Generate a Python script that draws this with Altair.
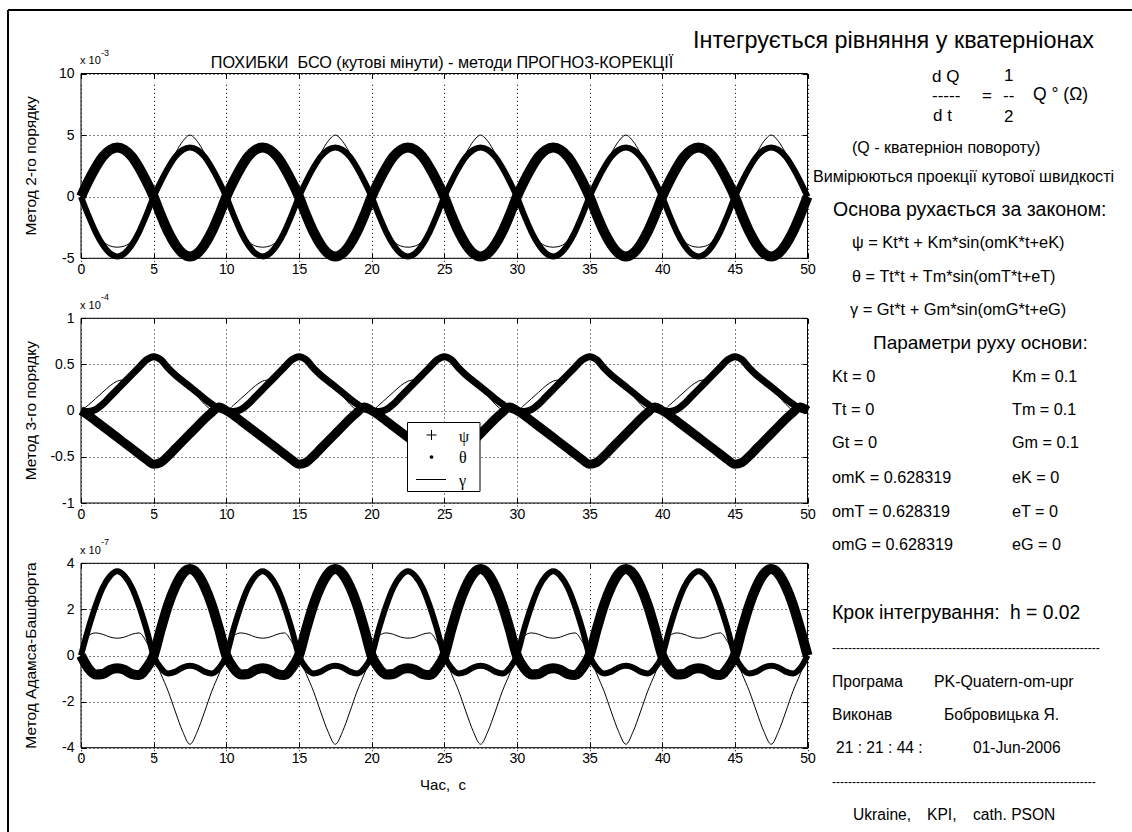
import altair as alt
import pandas as pd

W, H = 1132, 832
X_LEFT, X_RIGHT = 81.0, 807.5
FONT = "Liberation Sans"

# ---------------- data ----------------
# the error curves repeat every 10 s; one period sampled every 0.5 s
PERIOD_T = [0.0, 0.5, 1.0, 1.5, 2.0, 2.5, 3.0, 3.5, 4.0, 4.5,
            5.0, 5.5, 6.0, 6.5, 7.0, 7.5, 8.0, 8.5, 9.0, 9.5]
N_PERIODS = 5
X_TICKS = [0, 5, 10, 15, 20, 25, 30, 35, 40, 45, 50]
SERIES = ["ψ", "θ", "γ"]

# panel 1  (x 10^-3)  Метод 2-го порядку
P1_PSI = [0, 1.25, 2.35, 3.25, 3.8, 4.0, 3.8, 3.25, 2.35, 1.25,
          0, -1.5, -2.85, -3.9, -4.6, -4.85, -4.6, -3.9, -2.85, -1.5]
P1_THETA = [0, -1.5, -2.85, -3.9, -4.6, -4.85, -4.6, -3.9, -2.85, -1.5,
            0, 1.25, 2.35, 3.25, 3.8, 4.0, 3.8, 3.25, 2.35, 1.25]
P1_GAMMA = [0, -1.45, -2.8, -3.6, -4.0, -4.1, -4.0, -3.6, -2.8, -1.45,
            0, 1.35, 2.6, 3.55, 4.5, 5.0, 4.5, 3.55, 2.6, 1.35]

# panel 2  (x 10^-4)  Метод 3-го порядку
P2_PSI = [0.0, -0.01, 0.01, 0.07, 0.15, 0.23, 0.31, 0.39, 0.47, 0.55,
          0.585, 0.55, 0.46, 0.385, 0.32, 0.26, 0.195, 0.13, 0.07, 0.02]
P2_THETA = [0.0, -0.05, -0.11, -0.17, -0.23, -0.29, -0.35, -0.41, -0.47, -0.53,
            -0.58, -0.56, -0.49, -0.41, -0.33, -0.25, -0.17, -0.09, -0.02, 0.04]
P2_GAMMA = [0.0, 0.06, 0.13, 0.2, 0.27, 0.32, 0.34, 0.41, 0.48, 0.55,
            0.57, 0.53, 0.45, 0.38, 0.31, 0.25, 0.16, 0.07, 0.01, 0.0]

# panel 3  (x 10^-7)  Метод Адамса-Башфорта
P3_PSI = [0, 1.15, 2.15, 2.95, 3.45, 3.65, 3.45, 2.95, 2.15, 1.15,
          0, -0.55, -0.78, -0.7, -0.52, -0.45, -0.52, -0.7, -0.78, -0.55]
P3_THETA = [0, -0.55, -0.82, -0.8, -0.62, -0.55, -0.62, -0.8, -0.85, -0.55,
            0, 1.15, 2.2, 3.0, 3.55, 3.75, 3.55, 3.0, 2.2, 1.15]
P3_GAMMA = [0, 0.85, 0.98, 0.92, 0.8, 0.75, 0.8, 0.92, 0.98, 0.6,
            0, -0.8, -1.55, -2.45, -3.3, -3.85, -3.3, -2.45, -1.55, -0.8]

PANELS = [
    dict(vals=[P1_PSI, P1_THETA, P1_GAMMA], widths=[10, 6, 1], domain=[-5, 10],
         ticks=[-5, 0, 5, 10], top=73.5, bottom=258.3, exp="-3",
         ylabel="Метод 2-го порядку"),
    dict(vals=[P2_PSI, P2_THETA, P2_GAMMA], widths=[7, 9, 1], domain=[-1, 1],
         ticks=[-1, -0.5, 0, 0.5, 1], top=318.3, bottom=503.0, exp="-4",
         ylabel="Метод 3-го порядку"),
    dict(vals=[P3_PSI, P3_THETA, P3_GAMMA], widths=[6, 10, 1], domain=[-4, 4],
         ticks=[-4, -2, 0, 2, 4], top=563.3, bottom=747.7, exp="-7",
         ylabel="Метод Адамса-Башфорта"),
]

T_FULL = [p * 10 + t for p in range(N_PERIODS) for t in PERIOD_T] + [50.0]


def full(vals):
    return list(vals) * N_PERIODS + [vals[0]]


layers = []
for p in PANELS:
    xs = alt.Scale(domain=[0, 50], range=[X_LEFT, X_RIGHT], nice=False, zero=False)
    ys = alt.Scale(domain=p["domain"], range=[p["bottom"], p["top"]], nice=False, zero=False)
    box_df = pd.DataFrame({"x0": [0], "x1": [50], "y0": [p["domain"][0]], "y1": [p["domain"][1]]})
    common = dict(labelFont=FONT, labelColor="black", title=None)
    box = alt.Chart(box_df).mark_rect(fillOpacity=0, stroke="black", strokeWidth=1).encode(
        x=alt.X("x0:Q", scale=xs, axis=alt.Axis(
            orient="bottom", offset=p["bottom"] - H, values=X_TICKS, grid=True,
            gridDash=[1, 3], gridColor="black", gridOpacity=1, gridWidth=1,
            ticks=False, tickSize=0, domain=False, labelFlush=False,
            labelExpr="'' + datum.value", labelFontSize=14, labelPadding=4, **common)),
        x2="x1:Q",
        y=alt.Y("y0:Q", scale=ys, axis=alt.Axis(
            orient="left", offset=-X_LEFT, values=p["ticks"], grid=True,
            gridDash=[1, 3], gridColor="black", gridOpacity=1, gridWidth=1,
            ticks=False, tickSize=0, domain=False, labelFlush=False,
            labelExpr="'' + datum.value", labelFontSize=14, labelPadding=7, **common)),
        y2="y1:Q",
    )
    layers.append(box)
    tick_ax = dict(labels=False, domain=False, grid=False, ticks=True, tickSize=5,
                   tickColor="black", tickWidth=1, title=None)
    tk1 = alt.Chart(box_df).mark_point(opacity=0).encode(
        x=alt.X("x0:Q", scale=xs, axis=alt.Axis(orient="top", offset=-p["bottom"], values=X_TICKS, **tick_ax)),
        y=alt.Y("y0:Q", scale=ys, axis=alt.Axis(orient="right", offset=X_LEFT - W, values=p["ticks"], **tick_ax)),
    )
    tk2 = alt.Chart(box_df).mark_point(opacity=0).encode(
        x=alt.X("x0:Q", scale=xs, axis=alt.Axis(orient="bottom", offset=p["top"] - H, values=X_TICKS, **tick_ax)),
        y=alt.Y("y0:Q", scale=ys, axis=alt.Axis(orient="left", offset=-X_RIGHT, values=p["ticks"], **tick_ax)),
    )
    layers += [tk1, tk2]
    for name, vals, w in zip(SERIES, p["vals"], p["widths"]):
        df = pd.DataFrame({"t": T_FULL, "v": full(vals), "s": name})
        line = alt.Chart(df).mark_line(
            interpolate="monotone", color="black", strokeWidth=w, strokeJoin="round"
        ).encode(
            x=alt.X("t:Q", scale=xs, axis=None),
            y=alt.Y("v:Q", scale=ys, axis=None),
        )
        layers.append(line)

# ---------------- texts ----------------
NB = "\u00a0"
left_txt = [
    ("ПОХИБКИ" + NB + NB + "БСО (кутові мінути) - методи ПРОГНОЗ-КОРЕКЦІЇ", 442, 63, 16.2, "center", 0),
    ("Час," + NB + NB + "с", 443, 785, 15, "center", 0),
]
for p in PANELS:
    left_txt.append(("x 10", 80, p["top"] - 12.5, 11, "left", 0))
    left_txt.append((p["exp"], 101, p["top"] - 21, 9, "left", 0))
    left_txt.append((p["ylabel"], 31, (p["top"] + p["bottom"]) / 2, 15.5, "center", 270))

right_txt = [
    ("Інтегрується рівняння у кватерніонах", 693, 41, 23.4),
    ("d Q", 932, 77, 17), ("1", 1004, 76, 17),
    ("-----", 932, 96, 17), ("=", 982, 96, 17), ("--", 1003, 96, 17),
    ("Q ° (Ω)", 1033, 95, 17.5),
    ("d t", 933, 116, 17), ("2", 1004, 117, 17),
    ("(Q - кватерніон повороту)", 852, 148, 16),
    ("Вимірюються проекції кутової швидкості", 813, 177, 16.1),
    ("Основа рухається за законом:", 833, 210, 19.5),
    ("ψ = Kt*t + Km*sin(omK*t+eK)", 852, 243, 16.4),
    ("θ = Tt*t + Tm*sin(omT*t+eT)", 852, 277, 16.2),
    ("γ = Gt*t + Gm*sin(omG*t+eG)", 850, 310, 16.4),
    ("Параметри руху основи:", 873, 343, 19),
    ("Kt = 0", 832, 377, 16.4), ("Km = 0.1", 1012, 377, 16.2),
    ("Tt = 0", 832, 410, 16.4), ("Tm = 0.1", 1012, 410, 16.2),
    ("Gt = 0", 832, 443, 16.4), ("Gm = 0.1", 1012, 443, 16.2),
    ("omK = 0.628319", 832, 478, 16.2), ("eK = 0", 1012, 478, 16.2),
    ("omT = 0.628319", 832, 512, 16.2), ("eT = 0", 1012, 512, 16.2),
    ("omG = 0.628319", 832, 545, 16.2), ("eG = 0", 1012, 545, 16.2),
    ("Крок інтегрування:", 832, 613, 19.5), ("h = 0.02", 1010, 613, 19.3),
    ("-" * 67, 832, 648, 12),
    ("Програма", 832, 682, 15.6), ("PK-Quatern-om-upr", 934, 682, 15.9),
    ("Виконав", 832, 715, 15.6), ("Бобровицька Я.", 944, 715, 15.6),
    ("21 : 21 : 44 :", 836, 748, 15.6), ("01-Jun-2006", 973, 748, 15.6),
    ("-" * 66, 832, 782, 12),
    ("Ukraine,", 853, 815, 15.6), ("KPI,", 927, 815, 15.6), ("cath. PSON", 973, 815, 15.6),
]

for txt, x, y, s, al, ang in left_txt:
    layers.append(alt.Chart(pd.DataFrame({"a": [0]})).mark_text(
        text=txt, font=FONT, fontSize=s, align=al, baseline="middle", angle=ang, color="black"
    ).encode(x=alt.value(x), y=alt.value(y)))

rdf = pd.DataFrame(right_txt, columns=["text", "x", "y", "size"])
layers.append(alt.Chart(rdf).mark_text(font=FONT, align="left", baseline="middle", color="black").encode(
    x=alt.X("x:Q", scale=None), y=alt.Y("y:Q", scale=None),
    text="text:N", size=alt.Size("size:Q", scale=None)))

# ---------------- legend ----------------
one = pd.DataFrame({"a": [0]})
layers.append(alt.Chart(one).mark_rect(fill="white", stroke="black", strokeWidth=1).encode(
    x=alt.value(407.5), x2=alt.value(480), y=alt.value(422.5), y2=alt.value(491.5)))
layers.append(alt.Chart(one).mark_point(shape="M-1,0H1M0,-1V1", size=100, filled=False,
                                         color="black", strokeWidth=1, opacity=1).encode(
    x=alt.value(431.5), y=alt.value(435)))
layers.append(alt.Chart(one).mark_point(shape="circle", size=14, filled=True, color="black", opacity=1).encode(
    x=alt.value(431.5), y=alt.value(457)))
layers.append(alt.Chart(one).mark_rule(color="black", strokeWidth=1).encode(
    x=alt.value(416), x2=alt.value(446), y=alt.value(479.5)))
leg = pd.DataFrame({"name": SERIES, "x": [459, 459, 459], "y": [437, 458, 481]})
layers.append(alt.Chart(leg).mark_text(font="Liberation Serif", fontSize=16, align="left",
                                        baseline="middle", color="black").encode(
    x=alt.X("x:Q", scale=None), y=alt.Y("y:Q", scale=None), text="name:N"))

# ---------------- figure frame ----------------
layers.append(alt.Chart(one).mark_rule(color="black", strokeWidth=2).encode(
    x=alt.value(8), x2=alt.value(W), y=alt.value(10)))
layers.append(alt.Chart(one).mark_rule(color="black", strokeWidth=2).encode(
    x=alt.value(8), y=alt.value(10), y2=alt.value(H)))

chart = alt.layer(*layers).resolve_scale(
    x="independent", y="independent"
).resolve_axis(
    x="independent", y="independent"
).properties(
    width=W, height=H, padding=0, background="white",
    autosize=alt.AutoSizeParams(type="none"),
).configure_view(stroke=None)

chart.save("out.html", embed_options={"renderer": "svg", "actions": False})
